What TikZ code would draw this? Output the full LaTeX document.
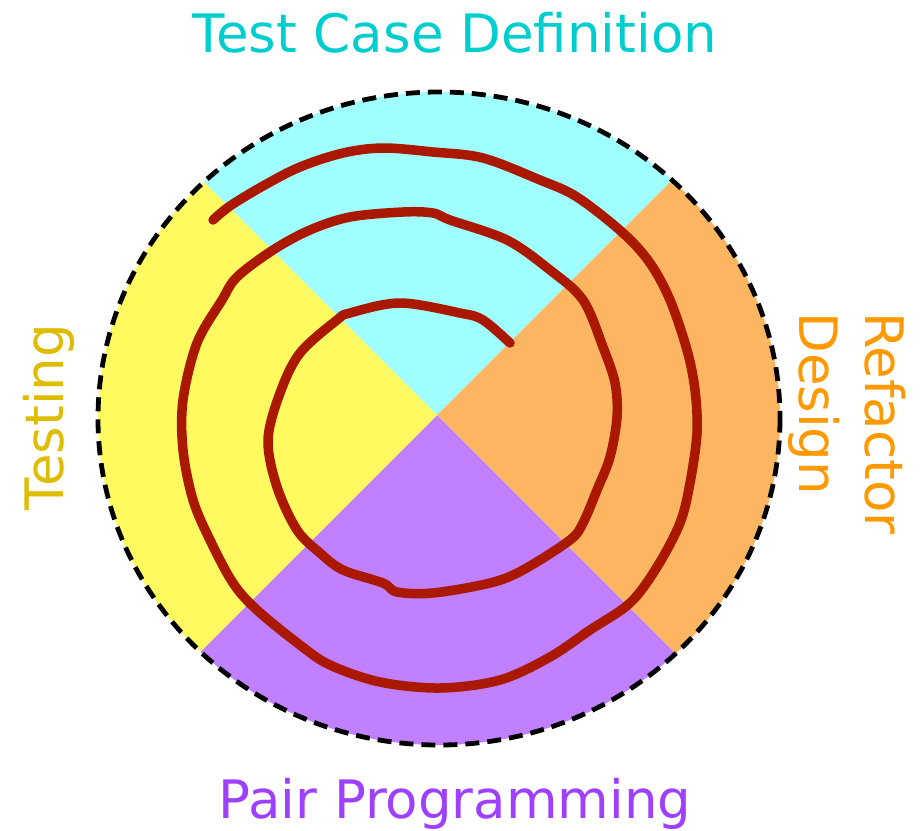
\documentclass[tikz,border=0pt]{standalone}
\usepackage{fontspec}
\setmainfont{DejaVu Sans}
\definecolor{topfill}{RGB}{160,255,255}
\definecolor{rightfill}{RGB}{252,182,98}
\definecolor{bottomfill}{RGB}{192,128,255}
\definecolor{leftfill}{RGB}{255,250,96}
\definecolor{toptext}{RGB}{0,206,206}
\definecolor{righttext}{RGB}{255,153,0}
\definecolor{bottomtext}{RGB}{160,64,255}
\definecolor{lefttext}{RGB}{222,188,0}
\definecolor{spiralred}{RGB}{170,24,0}
\tikzset{
  label/.style={inner sep=0pt, font=\fontsize{53}{64}\selectfont},
  rim/.style={draw=black, line width=4.8pt, dash pattern=on 14pt off 8pt},
  spiral/.style={draw=spiralred, line width=9.5pt, line cap=round, line join=round}
}
\begin{document}
\begin{tikzpicture}[x=1pt,y=-1pt]
\useasboundingbox (0,0) rectangle (923,830);
\coordinate (c) at (437,415);
% four quadrants of the cycle, clipped to the round outline
\begin{scope}
  \clip (439,418.5) ellipse [x radius=341, y radius=326.5];
  \fill[topfill]    (c) -- ++(-420,-420) -- ++(840,0) -- cycle;
  \fill[rightfill]  (c) -- ++(420,-420) -- ++(0,840) -- cycle;
  \fill[bottomfill] (c) -- ++(420,420) -- ++(-840,0) -- cycle;
  \fill[leftfill]   (c) -- ++(-420,420) -- ++(0,-840) -- cycle;
\end{scope}
\path[rim] (439,418.5) ellipse [x radius=341, y radius=326.5];
% the iteration spiral, from its outer end inwards
\path[spiral] plot[smooth, tension=0.55] coordinates {
  (213,220) (230,206) (263,186) (300,167) (343,153) (383,148) (433,152)
  (483,158) (540,180) (577,197) (623,233) (650,263) (670,300) (687,350)
  (695,390) (697,433) (690,483) (680,523) (657,567) (630,603) (590,630)
  (550,657) (500,680) (440,688) (380,682) (330,665) (300,645) (257,610)
  (233,583) (210,540) (193,500) (183,450) (183,400) (197,343) (222,300)
  (237,277) (273,250) (310,230) (350,217) (403,212) (433,213) (450,220)
  (507,240) (550,270) (583,300) (603,347) (615,383) (617,417) (610,457)
  (597,490) (583,523) (570,540) (523,570) (490,583) (433,593) (397,592)
  (383,583) (343,570) (320,553) (297,530) (277,487) (268,440) (280,393)
  (300,353) (337,320) (350,313) (400,303) (460,313) (483,320) (510,343)};
% phase labels
\node[label, text=toptext, anchor=base] (tcd) at (455,52) {Test Case Definition};
\node[label, text=bottomtext, anchor=base] (pp) at (455,818) {Pair Programming};
\node[label, text=lefttext, anchor=base, rotate=90] (testing) at (63,417) {Testing};
\node[label, text=righttext, anchor=base west, rotate=-90] (refactor) at (865,312) {Refactor};
\node[label, text=righttext, anchor=base west, rotate=-90] (design) at (799,312) {Design};
\end{tikzpicture}
\end{document}
